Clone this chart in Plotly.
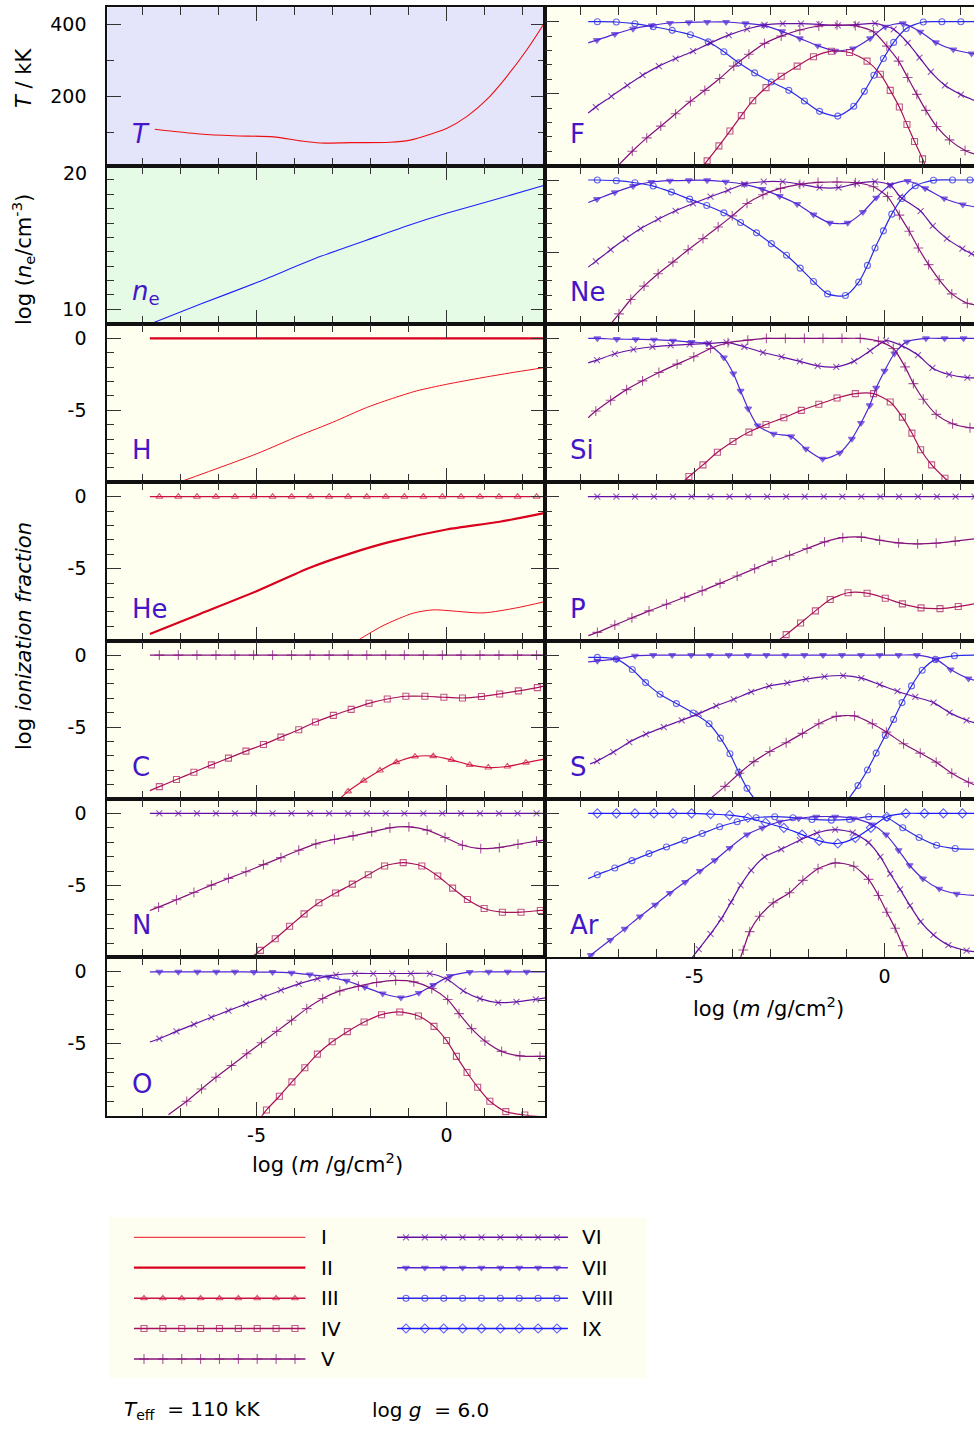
import plotly.graph_objects as go

FIG_W, FIG_H = 974, 1429
FONT = "DejaVu Sans"
LABEL_COLOR = "#4416c8"

# ---------------- model structure: log m [g/cm^2] vs. quantity ----------------
T_X = [-7.68, -6.49, -5.61, -4.56, -3.86, -3.33, -2.54, -1.49, -0.96, -0.35, 0.00, 0.53, 1.05, 1.58, 2.11, 2.60]
T_Y = [110, 97, 92, 89, 78, 72, 73, 74, 80, 99, 112, 145, 191, 255, 329, 407]

NE_X = [-7.72, -6.49, -5.00, -3.33, -1.84, -1.05, 0.00, 1.40, 2.60]
NE_Y = [9.07, 10.35, 11.86, 13.67, 15.06, 15.80, 16.68, 17.73, 18.65]

# dominant ions that stay at log fraction 0 over the whole atmosphere
FLAT_X = [-7.81, -7.56, -7.06, -6.57, -6.07, -5.57, -5.08, -4.58, -4.08, -3.59, -3.09, -2.59,
          -2.10, -1.60, -1.11, -0.61, -0.11, 0.38, 0.88, 1.38, 1.87, 2.37, 2.60]
FLAT_Y = [0, 0, 0, 0, 0, 0, 0, 0, 0, 0, 0, 0, 0, 0, 0, 0, 0, 0, 0, 0, 0, 0, 0]

# ---------------- log ionization fractions ----------------
H_I_X = [-6.99, -5.00, -3.86, -2.98, -2.11, -1.49, -0.79, 0.00, 0.96, 1.84, 2.60]
H_I_Y = [-9.95, -8.02, -6.74, -5.81, -4.81, -4.23, -3.65, -3.19, -2.72, -2.33, -2.02]

HE_II_X = [-7.81, -6.49, -5.00, -3.60, -2.54, -1.49, 0.00, 1.40, 2.60]
HE_II_Y = [-9.53, -8.14, -6.56, -4.93, -3.95, -3.14, -2.28, -1.74, -1.12]
HE_I_X = [-2.32, -1.67, -0.88, -0.35, 0.96, 1.84, 2.60]
HE_I_Y = [-9.95, -8.95, -8.09, -7.86, -8.07, -7.72, -7.28]

C_IV_X = [-7.81, -7.56, -7.11, -6.65, -6.19, -5.74, -5.28, -4.82, -4.36, -3.89, -3.45, -2.98,
          -2.51, -2.04, -1.56, -1.07, -0.57, -0.07, 0.42, 0.92, 1.40, 1.89, 2.39, 2.60]
C_IV_Y = [-9.42, -9.14, -8.65, -8.14, -7.63, -7.16, -6.67, -6.21, -5.70, -5.19, -4.65, -4.19,
          -3.77, -3.35, -3.05, -2.86, -2.86, -2.93, -2.98, -2.88, -2.70, -2.49, -2.26, -2.14]
C_III_X = [-2.82, -2.59, -2.18, -1.75, -1.32, -0.83, -0.35, 0.13, 0.61, 1.10, 1.60, 2.09, 2.60]
C_III_Y = [-10.0, -9.47, -8.72, -8.02, -7.44, -7.05, -7.02, -7.28, -7.63, -7.81, -7.74, -7.47, -7.21]

N_V_X = [-7.81, -7.58, -7.11, -6.65, -6.19, -5.74, -5.28, -4.82, -4.36, -3.89, -3.44, -2.95,
         -2.46, -1.97, -1.49, -0.99, -0.51, -0.04, 0.42, 0.90, 1.39, 1.88, 2.37, 2.60]
N_V_Y = [-6.74, -6.51, -6.00, -5.49, -4.98, -4.51, -4.05, -3.56, -3.07, -2.56, -2.12, -1.81,
         -1.56, -1.28, -1.00, -0.93, -1.16, -1.67, -2.21, -2.44, -2.37, -2.14, -1.93, -1.84]
N_IV_X = [-5.13, -4.90, -4.51, -4.13, -3.75, -3.36, -2.92, -2.48, -2.06, -1.63, -1.14, -0.65,
          -0.23, 0.16, 0.55, 0.99, 1.47, 1.96, 2.47, 2.60]
N_IV_Y = [-10.0, -9.51, -8.70, -7.84, -6.98, -6.21, -5.53, -4.91, -4.26, -3.65, -3.42, -3.65,
          -4.35, -5.19, -5.98, -6.60, -6.86, -6.86, -6.74, -6.72]

O_VII_X = [-7.81, -7.56, -7.06, -6.56, -6.06, -5.57, -5.07, -4.58, -4.08, -3.60, -3.11, -2.63,
           -2.15, -1.68, -1.20, -0.73, -0.35, 0.09, 0.61, 1.11, 1.61, 2.11, 2.60]
O_VII_Y = [0, 0, 0, 0, 0, 0, -0.02, -0.02, -0.07, -0.19, -0.35, -0.63,
           -1.07, -1.51, -1.79, -1.47, -0.93, -0.30, -0.02, 0, 0, 0, 0]
O_VI_X = [-7.81, -7.56, -7.11, -6.65, -6.19, -5.74, -5.28, -4.82, -4.36, -3.89, -3.40, -2.91,
          -2.41, -1.93, -1.43, -0.94, -0.44, 0.03, 0.44, 0.88, 1.36, 1.84, 2.35, 2.60]
O_VI_Y = [-4.88, -4.65, -4.14, -3.65, -3.16, -2.70, -2.23, -1.77, -1.28, -0.84, -0.47, -0.21,
          -0.12, -0.12, -0.12, -0.12, -0.12, -0.53, -1.33, -1.86, -2.14, -2.09, -1.91, -1.81]
O_V_X = [-7.32, -6.84, -6.45, -6.07, -5.66, -5.26, -4.87, -4.47, -4.08, -3.68, -3.26, -2.81,
         -2.32, -1.84, -1.34, -0.86, -0.39, 0.03, 0.33, 0.66, 1.01, 1.45, 1.93, 2.46, 2.60]
O_V_Y = [-9.93, -9.00, -8.14, -7.33, -6.51, -5.70, -4.93, -4.14, -3.37, -2.56, -1.86, -1.33,
         -1.00, -0.74, -0.60, -0.70, -1.16, -1.93, -2.91, -3.95, -4.81, -5.53, -5.84, -5.88, -5.88]
O_IV_X = [-4.87, -4.74, -4.40, -4.07, -3.73, -3.40, -3.01, -2.61, -2.17, -1.71, -1.23, -0.74,
          -0.33, 0.00, 0.26, 0.54, 0.82, 1.14, 1.56, 2.06, 2.60]
O_IV_Y = [-10.05, -9.60, -8.65, -7.65, -6.67, -5.72, -4.86, -4.16, -3.49, -2.98, -2.79, -3.07,
          -3.79, -4.77, -5.88, -7.00, -8.02, -9.00, -9.72, -9.95, -10.1]

F_VIII_X = [-7.80, -7.56, -7.06, -6.57, -6.09, -5.59, -5.11, -4.64, -4.23, -3.84, -3.42, -2.98,
            -2.52, -2.11, -1.71, -1.23, -0.81, -0.53, -0.28, -0.03, 0.24, 0.57, 1.02, 1.51, 2.01, 2.36]
F_VIII_Y = [0, 0, -0.02, -0.14, -0.35, -0.60, -0.91, -1.40, -2.09, -2.86, -3.56, -4.19,
            -4.77, -5.51, -6.23, -6.56, -5.88, -4.84, -3.72, -2.56, -1.44, -0.47, -0.02, 0, 0, 0]
F_VII_X = [-7.80, -7.57, -7.10, -6.62, -6.13, -5.65, -5.15, -4.67, -4.17, -3.66, -3.18, -2.70,
           -2.23, -1.76, -1.30, -0.83, -0.38, 0.02, 0.48, 0.94, 1.35, 1.81, 2.29, 2.36]
F_VII_Y = [-1.47, -1.28, -0.86, -0.49, -0.26, -0.09, -0.05, -0.02, -0.02, -0.12, -0.26, -0.67,
           -1.16, -1.67, -2.02, -1.86, -1.16, -0.35, -0.12, -0.70, -1.44, -1.93, -2.21, -2.23]
F_VI_X = [-7.80, -7.60, -7.19, -6.77, -6.37, -5.94, -5.50, -5.04, -4.58, -4.10, -3.62, -3.16,
          -2.68, -2.20, -1.71, -1.23, -0.74, -0.25, 0.24, 0.61, 0.92, 1.22, 1.59, 2.01, 2.36]
F_VI_Y = [-6.35, -5.93, -5.19, -4.42, -3.72, -3.09, -2.56, -2.05, -1.47, -0.93, -0.51, -0.23,
          -0.14, -0.14, -0.19, -0.26, -0.21, -0.12, -0.53, -1.47, -2.49, -3.49, -4.42, -5.07, -5.47]
F_V_X = [-6.99, -6.64, -6.26, -5.89, -5.50, -5.11, -4.73, -4.34, -3.97, -3.57, -3.16, -2.72,
         -2.23, -1.73, -1.25, -0.77, -0.29, 0.06, 0.37, 0.61, 0.85, 1.09, 1.37, 1.71, 2.12, 2.36]
F_V_Y = [-9.93, -9.00, -8.07, -7.26, -6.40, -5.53, -4.77, -3.95, -3.09, -2.26, -1.51, -1.00,
         -0.58, -0.30, -0.23, -0.28, -0.70, -1.70, -2.74, -3.88, -5.05, -6.16, -7.28, -8.21, -8.95, -9.19]
F_IV_X = [-4.75, -4.67, -4.36, -4.07, -3.77, -3.47, -3.12, -2.72, -2.30, -1.87, -1.40, -0.92,
          -0.46, -0.11, 0.15, 0.39, 0.59, 0.79, 1.00, 1.07]
F_IV_Y = [-9.93, -9.67, -8.63, -7.60, -6.53, -5.49, -4.58, -3.79, -3.09, -2.44, -2.05, -2.14,
          -2.74, -3.65, -4.77, -5.93, -7.14, -8.33, -9.53, -10.0]

NE_VIII_X = [-7.80, -7.56, -7.06, -6.57, -6.09, -5.61, -5.13, -4.68, -4.23, -3.79, -3.37, -2.98, -2.58,
             -2.22, -1.87, -1.50, -1.03, -0.68, -0.45, -0.25, -0.03, 0.19, 0.46, 0.81, 1.29, 1.79, 2.25, 2.36]
NE_VIII_Y = [0, 0, -0.05, -0.19, -0.42, -0.84, -1.33, -1.77, -2.28, -2.95, -3.67, -4.42, -5.23,
             -6.12, -7.05, -7.91, -8.02, -7.09, -5.93, -4.72, -3.53, -2.37, -1.28, -0.40, -0.02, 0, 0, 0]
NE_VII_X = [-7.80, -7.57, -7.10, -6.62, -6.14, -5.65, -5.15, -4.67, -4.18, -3.69, -3.22, -2.76,
            -2.30, -1.87, -1.44, -0.97, -0.57, -0.22, 0.15, 0.61, 1.07, 1.57, 2.06, 2.36]
NE_VII_Y = [-1.56, -1.33, -0.86, -0.42, -0.14, -0.05, -0.02, -0.02, -0.12, -0.30, -0.63, -1.12,
            -1.67, -2.40, -2.98, -2.98, -2.23, -1.23, -0.35, -0.07, -0.58, -1.28, -1.70, -1.86]
NE_VI_X = [-7.80, -7.60, -7.21, -6.81, -6.42, -5.96, -5.50, -5.04, -4.58, -4.12, -3.69, -3.18, -2.68,
           -2.19, -1.71, -1.21, -0.73, -0.25, 0.15, 0.41, 0.95, 1.27, 1.64, 2.05, 2.29, 2.36]
NE_VI_Y = [-6.05, -5.65, -4.84, -4.07, -3.37, -2.72, -2.14, -1.63, -1.16, -0.72, -0.28, -0.12, -0.12,
           -0.30, -0.53, -0.53, -0.23, -0.12, -0.35, -1.16, -2.16, -3.19, -4.07, -4.77, -5.12, -5.20]
NE_V_X = [-7.21, -6.99, -6.68, -6.33, -5.96, -5.57, -5.17, -4.78, -4.38, -4.01, -3.62, -3.20, -2.74,
          -2.23, -1.75, -1.25, -0.77, -0.29, 0.08, 0.39, 0.65, 0.89, 1.16, 1.44, 1.77, 2.18, 2.36]
NE_V_Y = [-10.0, -9.30, -8.30, -7.37, -6.51, -5.70, -4.84, -4.07, -3.26, -2.49, -1.63, -1.02, -0.58,
          -0.30, -0.16, -0.14, -0.19, -0.47, -1.15, -2.44, -3.56, -4.72, -5.88, -6.93, -7.91, -8.56, -8.65]

SI_VII_X = [-7.80, -7.56, -7.05, -6.55, -6.07, -5.57, -5.08, -4.67, -4.23, -3.98, -3.79, -3.59, -3.34,
            -2.92, -2.46, -2.07, -1.63, -1.18, -0.86, -0.62, -0.39, -0.22, 0.00, 0.26, 0.59, 1.09, 1.58, 2.08, 2.36]
SI_VII_Y = [0, 0, -0.05, -0.07, -0.09, -0.16, -0.26, -0.35, -1.33, -2.44, -3.65, -4.88, -6.05,
            -6.63, -6.81, -7.67, -8.37, -7.95, -6.98, -5.88, -4.65, -3.44, -2.26, -1.05, -0.23, 0, 0, 0, 0]
SI_VI_X = [-7.80, -7.57, -7.10, -6.61, -6.11, -5.63, -5.13, -4.62, -4.16, -3.69, -3.20, -2.71,
           -2.23, -1.76, -1.27, -0.80, -0.38, 0.04, 0.45, 0.88, 1.26, 1.70, 2.18, 2.36]
SI_VI_Y = [-1.70, -1.51, -1.07, -0.77, -0.58, -0.49, -0.42, -0.35, -0.28, -0.58, -0.98, -1.28,
           -1.60, -1.91, -1.98, -1.58, -0.86, -0.16, -0.50, -1.16, -2.05, -2.51, -2.72, -2.74]
SI_V_X = [-7.80, -7.60, -7.21, -6.79, -6.37, -5.94, -5.46, -5.02, -4.58, -4.12, -3.60, -3.11, -2.61,
          -2.11, -1.62, -1.12, -0.64, -0.16, 0.23, 0.54, 0.76, 1.02, 1.36, 1.79, 2.25, 2.36]
SI_V_Y = [-5.51, -5.05, -4.30, -3.56, -2.95, -2.37, -1.79, -1.28, -0.70, -0.30, -0.12, 0, 0,
          0, 0, 0, 0, -0.19, -0.70, -1.98, -3.14, -4.23, -5.28, -5.93, -6.21, -6.23]
SI_IV_X = [-5.28, -5.15, -4.78, -4.40, -3.99, -3.57, -3.12, -2.65, -2.19, -1.73, -1.25, -0.77,
           -0.29, 0.15, 0.47, 0.72, 0.95, 1.24, 1.59, 1.71]
SI_IV_Y = [-9.93, -9.60, -8.79, -7.91, -7.16, -6.51, -5.98, -5.51, -5.00, -4.58, -4.14, -3.84,
           -3.84, -4.42, -5.47, -6.58, -7.74, -8.79, -9.72, -10.0]

P_V_X = [-7.80, -7.56, -7.10, -6.65, -6.20, -5.74, -5.26, -4.80, -4.33, -3.88, -3.42, -2.96,
         -2.50, -2.04, -1.58, -1.10, -0.61, -0.13, 0.37, 0.87, 1.36, 1.86, 2.36]
P_V_Y = [-9.65, -9.42, -8.91, -8.42, -7.93, -7.47, -6.98, -6.53, -6.02, -5.51, -5.00, -4.49,
         -4.07, -3.60, -3.14, -2.84, -2.81, -3.02, -3.21, -3.28, -3.23, -3.09, -2.93]
P_IV_X = [-2.78, -2.59, -2.21, -1.82, -1.43, -0.96, -0.46, 0.02, 0.47, 0.96, 1.46, 1.94, 2.36]
P_IV_Y = [-9.95, -9.58, -8.77, -7.93, -7.14, -6.67, -6.70, -7.05, -7.44, -7.72, -7.77, -7.63, -7.44]

S_VIII_X = [-7.80, -7.56, -7.06, -6.64, -6.29, -5.91, -5.48, -5.04, -4.62, -4.32, -4.07, -3.84, -3.62, -3.42,
            None,
            -0.95, -0.70, -0.45, -0.22, 0.02, 0.24, 0.46, 0.71, 0.99, 1.34, 1.84, 2.36]
S_VIII_Y = [-0.16, -0.16, -0.28, -1.00, -1.91, -2.72, -3.37, -4.02, -4.77, -5.77, -6.86, -8.14, -9.26, -10.0,
            None,
            -10.0, -9.07, -7.98, -6.81, -5.58, -4.47, -3.30, -2.14, -1.05, -0.30, -0.05, 0]
S_VII_X = [-7.80, -7.56, -7.05, -6.57, -6.09, -5.59, -5.09, -4.60, -4.10, -3.60, -3.11, -2.61,
           -2.11, -1.62, -1.12, -0.62, -0.13, 0.37, 0.85, 1.36, 1.74, 2.21, 2.36]
S_VII_Y = [-0.47, -0.40, -0.28, -0.05, 0, 0, 0, 0, 0, 0, 0, 0,
           0, 0, 0, 0, 0, 0, 0, -0.30, -1.00, -1.63, -1.74]
S_VI_X = [-7.75, -7.57, -7.14, -6.72, -6.28, -5.81, -5.34, -4.89, -4.43, -3.97, -3.51, -3.04,
          -2.56, -2.07, -1.58, -1.09, -0.61, -0.13, 0.34, 0.81, 1.29, 1.71, 2.16, 2.36]
S_VI_Y = [-7.56, -7.37, -6.74, -6.05, -5.49, -5.00, -4.53, -4.07, -3.53, -3.07, -2.56, -2.16,
          -1.93, -1.67, -1.49, -1.42, -1.60, -2.05, -2.51, -2.91, -3.30, -4.00, -4.53, -4.70]
S_V_X = [-4.60, -4.20, -3.82, -3.44, -3.02, -2.59, -2.16, -1.73, -1.27, -0.79, -0.32, 0.05,
         0.50, 0.94, 1.36, 1.77, 2.21, 2.36]
S_V_Y = [-10.0, -9.12, -8.21, -7.40, -6.70, -6.09, -5.44, -4.77, -4.26, -4.23, -4.77, -5.35,
         -6.16, -6.81, -7.44, -8.21, -8.84, -9.00]

AR_IX_X = [-7.80, -7.56, -7.06, -6.57, -6.07, -5.57, -5.08, -4.58, -4.08, -3.60, -3.13, -2.65,
           -2.17, -1.72, -1.23, -0.77, -0.36, 0.06, 0.56, 1.05, 1.55, 2.05, 2.36]
AR_IX_Y = [0, 0, 0, 0, 0, 0, 0, -0.05, -0.12, -0.30, -0.65, -1.00,
           -1.47, -1.91, -2.09, -1.70, -1.00, -0.23, 0, 0, 0, 0, 0]
AR_VIII_X = [-7.80, -7.56, -7.10, -6.65, -6.20, -5.74, -5.26, -4.80, -4.34, -3.88, -3.38, -2.89,
             -2.41, -1.91, -1.40, -0.92, -0.42, 0.06, 0.48, 0.91, 1.37, 1.86, 2.36]
AR_VIII_Y = [-4.53, -4.26, -3.79, -3.28, -2.79, -2.33, -1.86, -1.40, -0.93, -0.58, -0.30, -0.23,
             -0.30, -0.42, -0.47, -0.42, -0.23, -0.30, -1.00, -1.67, -2.21, -2.44, -2.49]
AR_VII_X = [-7.80, -7.73, -7.22, -6.84, -6.44, -6.04, -5.65, -5.25, -4.86, -4.47, -4.08, -3.62,
            -3.22, -2.76, -2.26, -1.80, -1.30, -0.81, -0.33, 0.04, 0.37, 0.66, 1.01, 1.44, 1.90, 2.36]
AR_VII_Y = [-10.0, -9.84, -8.79, -8.02, -7.16, -6.35, -5.53, -4.77, -4.00, -3.26, -2.40, -1.47,
            -1.00, -0.58, -0.35, -0.23, -0.23, -0.35, -0.77, -1.47, -2.56, -3.60, -4.53, -5.23, -5.58, -5.70]
AR_VI_X = [-5.06, -4.89, -4.58, -4.30, -4.04, -3.79, -3.51, -3.16, -2.72, -2.23, -1.78, -1.30,
           -0.84, -0.42, -0.11, 0.15, 0.41, 0.67, 0.95, 1.29, 1.68, 2.16, 2.36]
AR_VI_Y = [-10.0, -9.42, -8.37, -7.33, -6.16, -5.00, -3.95, -3.02, -2.49, -1.86, -1.35, -1.12,
           -1.33, -2.02, -3.02, -4.19, -5.28, -6.40, -7.51, -8.44, -9.14, -9.53, -9.60]
AR_V_X = [-3.79, -3.72, -3.55, -3.29, -2.93, -2.50, -2.15, -1.75, -1.30, -0.81, -0.42, -0.16,
          0.06, 0.28, 0.48, 0.61]
AR_V_Y = [-10.0, -9.49, -8.21, -7.14, -6.21, -5.51, -4.65, -3.84, -3.44, -3.67, -4.58, -5.70,
          -6.86, -7.98, -9.19, -10.0]

ION_LABELS = ["I", "II", "III", "IV", "V", "VI", "VII", "VIII", "IX"]

# ---------------- styles ----------------
ION_STYLE = {
    "I":    dict(color="#ee1020", width=1.0, symbol=None, size=0),
    "II":   dict(color="#d8001c", width=2.2, symbol=None, size=0),
    "III":  dict(color="#cc1040", width=1.2, symbol="triangle-up-open", size=6),
    "IV":   dict(color="#a8105c", width=1.2, symbol="square-open", size=6),
    "V":    dict(color="#84107c", width=1.2, symbol="cross-thin-open", size=7),
    "VI":   dict(color="#6410a6", width=1.2, symbol="x-thin-open", size=6),
    "VII":  dict(color="#5026d6", width=1.2, symbol="triangle-down", size=6),
    "VIII": dict(color="#2a2ae8", width=1.2, symbol="circle-open", size=6),
    "IX":   dict(color="#1c1cff", width=1.2, symbol="diamond-open", size=7),
}

PANELS = [
    # name, column, row, label, background
    ("T",  0, 0, "<i>T</i>", "#e4e4fb"),
    ("ne", 0, 1, "<i>n</i><sub>e</sub>", "#e5fbe5"),
    ("H",  0, 2, "H", "#fffff0"),
    ("He", 0, 3, "He", "#fffff0"),
    ("C",  0, 4, "C", "#fffff0"),
    ("N",  0, 5, "N", "#fffff0"),
    ("O",  0, 6, "O", "#fffff0"),
    ("F",  1, 0, "F", "#fffff0"),
    ("Ne", 1, 1, "Ne", "#fffff0"),
    ("Si", 1, 2, "Si", "#fffff0"),
    ("P",  1, 3, "P", "#fffff0"),
    ("S",  1, 4, "S", "#fffff0"),
    ("Ar", 1, 5, "Ar", "#fffff0"),
]

CURVES = {
    "H":  [("II", FLAT_X, FLAT_Y), ("I", H_I_X, H_I_Y)],
    "He": [("III", FLAT_X, FLAT_Y), ("II", HE_II_X, HE_II_Y), ("I", HE_I_X, HE_I_Y)],
    "C":  [("V", FLAT_X, FLAT_Y), ("IV", C_IV_X, C_IV_Y), ("III", C_III_X, C_III_Y)],
    "N":  [("VI", FLAT_X, FLAT_Y), ("V", N_V_X, N_V_Y), ("IV", N_IV_X, N_IV_Y)],
    "O":  [("VII", O_VII_X, O_VII_Y), ("VI", O_VI_X, O_VI_Y), ("V", O_V_X, O_V_Y), ("IV", O_IV_X, O_IV_Y)],
    "F":  [("VIII", F_VIII_X, F_VIII_Y), ("VII", F_VII_X, F_VII_Y), ("VI", F_VI_X, F_VI_Y),
           ("V", F_V_X, F_V_Y), ("IV", F_IV_X, F_IV_Y)],
    "Ne": [("VIII", NE_VIII_X, NE_VIII_Y), ("VII", NE_VII_X, NE_VII_Y), ("VI", NE_VI_X, NE_VI_Y),
           ("V", NE_V_X, NE_V_Y)],
    "Si": [("VII", SI_VII_X, SI_VII_Y), ("VI", SI_VI_X, SI_VI_Y), ("V", SI_V_X, SI_V_Y),
           ("IV", SI_IV_X, SI_IV_Y)],
    "P":  [("VI", FLAT_X, FLAT_Y), ("V", P_V_X, P_V_Y), ("IV", P_IV_X, P_IV_Y)],
    "S":  [("VIII", S_VIII_X, S_VIII_Y), ("VII", S_VII_X, S_VII_Y), ("VI", S_VI_X, S_VI_Y),
           ("V", S_V_X, S_V_Y)],
    "Ar": [("IX", AR_IX_X, AR_IX_Y), ("VIII", AR_VIII_X, AR_VIII_Y), ("VII", AR_VII_X, AR_VII_Y),
           ("VI", AR_VI_X, AR_VI_Y), ("V", AR_V_X, AR_V_Y)],
}

# ---------------- page geometry (pixels) ----------------
ROW_EDGES = [7.3, 165.6, 324.0, 482.3, 640.7, 799.0, 957.4, 1115.7]
COL_EDGES = [(107.3, 545.3), (545.3, 974.0)]
X_RANGES = [(-8.93, 2.60), (-8.93, 2.355)]
TICK_COLOR = "#333333"
FRAME_COLOR = "#111111"


def fx(p):
    return p / FIG_W


def fy(p):
    return 1 - p / FIG_H


def marker_sizes(xs, size):
    out = []
    n = len(xs)
    for i, v in enumerate(xs):
        if v is None:
            out.append(0)
        elif i == 0 or i == n - 1 or xs[i - 1] is None or xs[i + 1] is None:
            out.append(0)
        else:
            out.append(size)
    return out


fig = go.Figure()
layout = {}
shapes = []
annotations = []
font_tick = dict(family=FONT, size=19, color="black")

for k, (name, col, row, label, bg) in enumerate(PANELS, start=1):
    sfx = "" if k == 1 else str(k)
    x0, x1 = COL_EDGES[col]
    top, bot = ROW_EDGES[row], ROW_EDGES[row + 1]
    bottom_panel = (col == 0 and row == 6) or (col == 1 and row == 5)

    layout["xaxis" + sfx] = dict(
        domain=[fx(x0), fx(x1)], range=list(X_RANGES[col]), anchor="y" + sfx,
        showline=True, linewidth=2, linecolor=FRAME_COLOR, mirror="allticks",
        ticks="inside", ticklen=14, tickwidth=1.3, tickcolor=TICK_COLOR,
        tickmode="array", tickvals=[-5, 0], ticktext=["-5", "0"],
        showticklabels=bottom_panel, tickfont=font_tick, ticklabelstandoff=1,
        minor=dict(ticks="inside", ticklen=8, tickwidth=1.3, tickcolor=TICK_COLOR,
                   tickmode="array", tickvals=[-8, -7, -6, -4, -3, -2, -1, 1, 2], showgrid=False),
        showgrid=False, zeroline=False, fixedrange=True,
    )

    if name == "T":
        yr, major, major_txt, minor = [9.6, 447], [200, 400], ["200", "400"], [100, 300]
    elif name == "ne":
        yr, major, major_txt, minor = [8.98, 20.0], [10], ["10"], [11, 12, 13, 14, 15, 16, 17, 18, 19]
    else:
        yr, major, major_txt, minor = [-10, 1], [-5, 0], ["-5", "0"], [-9, -8, -7, -6, -4, -3, -2, -1]

    layout["yaxis" + sfx] = dict(
        domain=[fy(bot), fy(top)], range=yr, anchor="x" + sfx,
        showline=True, linewidth=2, linecolor=FRAME_COLOR,
        mirror="allticks" if col == 0 else False,
        ticks="inside", ticklen=14, tickwidth=1.3, tickcolor=TICK_COLOR,
        tickmode="array", tickvals=major, ticktext=major_txt,
        showticklabels=(col == 0), tickfont=font_tick, ticklabelstandoff=15,
        minor=dict(ticks="inside", ticklen=7, tickwidth=1.3, tickcolor=TICK_COLOR,
                   tickmode="array", tickvals=minor, showgrid=False),
        showgrid=False, zeroline=False, fixedrange=True,
    )

    shapes.append(dict(type="rect", xref="x" + sfx + " domain", yref="y" + sfx + " domain",
                       x0=0, x1=1, y0=0, y1=1, fillcolor=bg, line=dict(width=0), layer="below"))

    annotations.append(dict(text=label, xref="paper", yref="paper", x=fx(x0 + 23), y=fy(bot - 32),
                            xanchor="left", yanchor="middle", showarrow=False,
                            font=dict(family=FONT, size=26, color=LABEL_COLOR)))

    if name == "T":
        fig.add_trace(go.Scatter(x=T_X, y=T_Y, mode="lines", xaxis="x" + sfx, yaxis="y" + sfx,
                                 line=dict(color="#ee1010", width=1.1, shape="spline", smoothing=0.8),
                                 showlegend=False, hoverinfo="skip"))
    elif name == "ne":
        fig.add_trace(go.Scatter(x=NE_X, y=NE_Y, mode="lines", xaxis="x" + sfx, yaxis="y" + sfx,
                                 line=dict(color="#2020ff", width=1.1, shape="spline", smoothing=0.6),
                                 showlegend=False, hoverinfo="skip"))
    else:
        for ion, xs, ys in CURVES[name]:
            st = ION_STYLE[ion]
            has_marker = st["symbol"] is not None
            fig.add_trace(go.Scatter(
                x=xs, y=ys, mode="lines+markers" if has_marker else "lines",
                xaxis="x" + sfx, yaxis="y" + sfx,
                line=dict(color=st["color"], width=st["width"], shape="spline", smoothing=0.7),
                marker=dict(symbol=st["symbol"] or "circle", size=marker_sizes(xs, st["size"]),
                            color=st["color"], line=dict(color=st["color"], width=1.1)),
                showlegend=False, hoverinfo="skip", connectgaps=False,
            ))

# ---------------- axis titles and extra tick text ----------------
annotations += [
    dict(text="<i>T</i> / kK", x=fx(24), y=fy(78), textangle=-90),
    dict(text="log (<i>n</i><sub>e</sub>/cm<sup>-3</sup>)", x=fx(23), y=fy(260), textangle=-90),
    dict(text="log <i>ionization fraction</i>", x=fx(24), y=fy(636), textangle=-90),
    dict(text="log (<i>m</i> /g/cm<sup>2</sup>)", x=fx(327), y=fy(1163), textangle=0),
    dict(text="log (<i>m</i> /g/cm<sup>2</sup>)", x=fx(768), y=fy(1007), textangle=0),
]
for a in annotations[-5:]:
    a.update(xref="paper", yref="paper", xanchor="center", yanchor="middle", showarrow=False,
             font=dict(family=FONT, size=21, color="black"))

annotations.append(dict(text="20", xref="paper", yref="paper", x=fx(89), y=fy(173),
                        xanchor="right", yanchor="middle", showarrow=False, font=font_tick))

# ---------------- legend block ----------------
LEG_BOX = (108.9, 1217.3, 646.4, 1378.3)
LEG_ROWS = [1237.3, 1267.7, 1298.3, 1328.5, 1359.0]
LEG_COLS = [(134.0, 305.4, 144.0, 318.6), (397.1, 567.9, 406.0, 580.4)]
LEG_STEP = 18.87
LEG_TOP = 1190.0

shapes.append(dict(type="rect", xref="paper", yref="paper",
                   x0=fx(LEG_BOX[0]), x1=fx(LEG_BOX[2]), y0=fy(LEG_BOX[3]), y1=fy(LEG_BOX[1]),
                   fillcolor="#fefef0", line=dict(width=0), layer="below"))

# a separate, invisible coordinate frame for the key samples, below all panels
LEG = "14"
layout["xaxis" + LEG] = dict(domain=[0, 1], range=[0, FIG_W], visible=False, fixedrange=True,
                             anchor="y" + LEG)
layout["yaxis" + LEG] = dict(domain=[0, fy(LEG_TOP)], range=[FIG_H, LEG_TOP], visible=False,
                             fixedrange=True, anchor="x" + LEG)

for i, ion in enumerate(ION_LABELS):
    col, r = (0, i) if i < 5 else (1, i - 5)
    lx0, lx1, mx0, tx = LEG_COLS[col]
    yy = LEG_ROWS[r]
    st = ION_STYLE[ion]
    xs = [lx0] + [mx0 + LEG_STEP * j for j in range(9)] + [lx1]
    ys = [yy] * len(xs)
    fig.add_trace(go.Scatter(
        x=xs, y=ys, xaxis="x" + LEG, yaxis="y" + LEG,
        mode="lines+markers" if st["symbol"] else "lines",
        line=dict(color=st["color"], width=st["width"] if st["symbol"] is None else 1.6),
        marker=dict(symbol=st["symbol"] or "circle", size=marker_sizes(xs, st["size"]),
                    color=st["color"], line=dict(color=st["color"], width=1.1)),
        showlegend=False, hoverinfo="skip", cliponaxis=False))
    annotations.append(dict(text=ion, xref="paper", yref="paper", x=fx(tx), y=fy(yy),
                            xanchor="left", yanchor="middle", showarrow=False,
                            font=dict(family=FONT, size=20, color="black")))

annotations += [
    dict(text="<i>T</i><sub>eff</sub>  = 110 kK", x=fx(122), y=fy(1410)),
    dict(text="log <i>g</i>  = 6.0", x=fx(370), y=fy(1410)),
]
for a in annotations[-2:]:
    a.update(xref="paper", yref="paper", xanchor="left", yanchor="middle", showarrow=False,
             font=dict(family=FONT, size=20, color="black"))

fig.update_layout(
    width=FIG_W, height=FIG_H, autosize=False,
    margin=dict(l=0, r=0, t=0, b=0, pad=0),
    paper_bgcolor="white", plot_bgcolor="rgba(0,0,0,0)",
    font=dict(family=FONT, color="black"),
    shapes=shapes, annotations=annotations, showlegend=False,
    **layout,
)

fig.write_html("out.html", config={"displayModeBar": False})
